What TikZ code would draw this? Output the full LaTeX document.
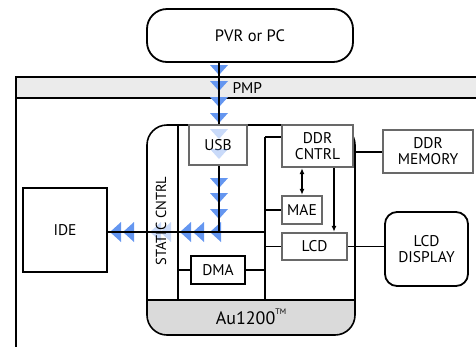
\documentclass[tikz,border=0pt]{standalone}
\usepackage{fontspec}
\setmainfont{PT Sans}
\usetikzlibrary{arrows.meta}
\definecolor{flowblue}{RGB}{100,150,240}
\definecolor{boxgrey}{RGB}{105,105,105}
\definecolor{bandgrey}{RGB}{235,235,235}
\definecolor{augrey}{RGB}{218,218,218}
\tikzset{
  wire/.style={line width=1.6pt, black},
  lbl/.style={font=\fontsize{15.5}{16}\selectfont},
  greybox/.style={draw=boxgrey, line width=2.4pt, fill=white, inner sep=0pt, align=center, lbl},
  blackbox/.style={draw=black, line width=1.8pt, fill=white, inner sep=0pt, align=center, lbl},
  roundbox/.style={blackbox, rounded corners=#1},
  tri/.style={fill=flowblue},
  trifaded/.style={fill=flowblue, fill opacity=0.35},
}
\begin{document}
\begin{tikzpicture}[x=1pt,y=-1pt]
\useasboundingbox (0,0) rectangle (476,346);
\clip (0,0) rectangle (476,346);
% outer board with PMP band
\fill[bandgrey] (16,77) rectangle (480,98);
\draw[wire] (16,350) -- (16,77) -- (480,77);
\draw[wire] (16,98) -- (480,98);
\node[anchor=west, lbl] (pmp) at (229,88) {PMP};
% Au1200 chip
\begin{scope}
  \clip[rounded corners=20pt] (147,125) rectangle (355,335);
  \fill[augrey] (147,300) rectangle (355,335);
\end{scope}
\draw[wire, rounded corners=20pt] (147,125) rectangle (355,335);
\draw[wire] (147,300) -- (355,300);
\node[font=\fontsize{18}{19}\selectfont] (au) at (251,317) {Au1200\raisebox{1.1ex}{\fontsize{8}{9}\selectfont TM}};
% static cntrl column
\coordinate (sct) at (178,125);
\coordinate (scb) at (178,300);
\draw[wire] (sct) -- (scb);
% blue flow triangles (down)
\foreach \y in {75,91,107,123,188,203,219}
  \path[tri] (210,\y-10) -- (228,\y-10) -- (219,\y) -- cycle;
% blue flow triangles (left)
\foreach \x in {110,123,180,193,210}
  \path[tri] (\x,232) -- (\x+11,222) -- (\x+11,242) -- cycle;
\foreach \x in {150,160}
  \path[trifaded] (\x,232) -- (\x+11,222) -- (\x+11,242) -- cycle;
\node[rotate=90, font=\fontsize{14.5}{15}\selectfont] (sc) at (161,221) {STATIC CNTRL};
% boxes
\node[roundbox=20pt, minimum width=206pt, minimum height=53pt, font=\fontsize{16.5}{17}\selectfont] (pvr) at (250,35.5) {PVR or PC};
\node[greybox, fill opacity=0.7, text opacity=1, minimum width=58pt, minimum height=40pt] (usb) at (218,145) {USB};
\foreach \y in {139,159}
  \path[trifaded] (210,\y-10) -- (228,\y-10) -- (219,\y) -- cycle;
\node[greybox, minimum width=71pt, minimum height=42pt] (ddrc) at (317.5,146) {DDR\\CNTRL};
\node[greybox, minimum width=40pt, minimum height=28pt] (mae) at (302,210) {MAE};
\node[greybox, minimum width=65pt, minimum height=27pt] (lcd) at (314.5,246.5) {LCD};
\node[roundbox=12pt, minimum width=83pt, minimum height=74pt] (lcdd) at (426.5,249) {LCD\\DISPLAY};
\node[greybox, minimum width=90pt, minimum height=43pt] (ddrm) at (428,151.5) {DDR\\MEMORY};
\node[blackbox, minimum width=84pt, minimum height=84pt] (ide) at (65,230) {IDE};
\node[blackbox, line width=1.6pt, minimum width=54pt, minimum height=28pt] (dma) at (218,270) {DMA};
% connectors
\coordinate (busx) at (219,0);
\coordinate (j1) at (219,232);
\coordinate (bt) at (265,137);
\coordinate (bb) at (265,300);
\coordinate (j2) at (265,232);
\coordinate (arx) at (334,0);
\coordinate (aur) at (355,152);
\draw[wire] (pvr.south -| busx) -- (usb.north -| busx);
\draw[wire] (usb.south -| busx) -- (j1);
\draw[wire] (ide.east |- j2) -- (j2);
\draw[wire] (bt) -- (bb);
\draw[wire] (bt) -- (bt -| ddrc.west);
\draw[wire] (mae.west -| bt) -- (mae.west);
\draw[wire] (lcd.west -| bt) -- (lcd.west);
\draw[wire] (dma.west -| sct) -- (dma.west);
\draw[wire] (dma.east) -- (dma.east -| bt);
\draw[wire, line width=1.3pt, {Latex[length=6pt,width=5pt]}-{Latex[length=6pt,width=5pt]}] (ddrc.south -| mae.north) -- (mae.north);
\draw[wire, line width=1.3pt, -{Latex[length=6pt,width=5pt]}] (ddrc.south -| arx) -- (lcd.north -| arx);
\draw[wire] (lcd.east) -- (lcdd.west |- lcd.east);
\draw[wire] (aur) -- (ddrm.west |- aur);
\end{tikzpicture}
\end{document}
